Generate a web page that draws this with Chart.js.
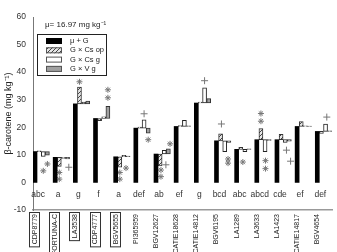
<!DOCTYPE html>
<html><head><meta charset="utf-8">
<script src="https://cdn.jsdelivr.net/npm/chart.js@4/dist/chart.umd.min.js"></script>
<style>html,body{margin:0;padding:0;background:#fff}canvas{display:block}</style>
</head><body>
<canvas id="c" width="337" height="252"></canvas>
<script>
// ---- data ----
const genotypes = ['CDP8779','FORTUNA-C','LA3538','CDP4777','BGV5655','PI365959','BGV12627','CATIE18628','CATIE14812','BGV6195','LA1289','LA3633','LA1423','CATIE14817','BGV4654'];
const muG     = [11.2, 9.1, 28.5, 23.2, 9.3, 19.7, 10.3, 20.3, 28.8, 15.1, 12.0, 15.5, 15.5, 20.3, 18.5];
const effCsOp = [0.3, -3.3, 6.1, -0.8, -3.8, 0.4, -4.3, 0.3, 0.3, 2.5, 0.7, 4.0, 1.9, 1.8, -0.7];
const effCsG  = [-1.8, -0.4, 0.6, 0.6, 0.5, 3.0, 1.3, 2.2, 5.5, -3.9, -0.8, -4.3, -1.0, 0.2, 2.7];
const effVG   = [-1.3, -0.6, 1.0, 4.4, 0.3, -1.8, 1.9, 0.2, 1.6, -0.6, 0.2, -0.3, -0.5, 0.1, 0.2];
const letters = ['abc','a','g','f','a','def','ab','ef','g','bcd','abc','abcd','cde','ef','def'];
const seriesNames = ['\u03bc + G','G \u00d7 Cs op','G \u00d7 Cs g','G \u00d7 V g'];
const meanText = '\u03bc= 16.97 mg kg\u207b\u00b9';
const yTitle = '\u03b2-carotene (mg kg\u207b\u00b9)';
// significance marks: group index, bar slot, value, type
const starGroup = [0, 0, 1, 1, 2, 3, 3, 4, 4, 4, 5, 6, 6, 6, 9, 9, 10, 11, 11, 11, 11];
const starSlot  = [2, 3, 1, 1, 1, 3, 3, 1, 1, 2.5, 3, 3.4, 1.2, 1.2, 2.8, 2.8, 1.5, 1, 1, 2.1, 2.1];
const starY     = [4.2, 6.7, 3.6, 1.2, 36.5, 33.6, 30.7, 3.6, 1.2, 5.2, 15.5, 14.0, 4.5, 2.1, 8.5, 7.0, 7.4, 25.0, 22.2, 7.9, 5.0];
const plusGroup = [1, 5, 6, 8, 9, 12, 12, 14];
const plusSlot  = [3.3, 2, 2.4, 2, 1.2, 2.3, 3.3, 2.3];
const plusY     = [5.5, 24.9, 6.4, 36.9, 21.2, 11.7, 7.7, 23.7];
const boxedLabels = [0, 1, 2, 3, 4];
const yMin = -10, yMax = 60, yStep = 10;

// ---- styles ----
const SLOT = 4.2 / 20.5;
const ctx0 = document.getElementById('c').getContext('2d');
function hatchPattern(){
  const c = document.createElement('canvas'); c.width = 4; c.height = 4;
  const x = c.getContext('2d');
  x.fillStyle = '#e6e6e6'; x.fillRect(0,0,4,4);
  x.strokeStyle = '#444'; x.lineWidth = 1;
  x.beginPath(); x.moveTo(-1,5); x.lineTo(5,-1); x.moveTo(-1,1); x.lineTo(1,-1); x.moveTo(3,5); x.lineTo(5,3); x.stroke();
  return ctx0.createPattern(c, 'repeat');
}
const fills = ['#000', hatchPattern(), '#ffffff', '#a0a0a0'];
const borders = ['#000', '#333', '#222', '#333'];
const effects = [null, effCsOp, effCsG, effVG];

const datasets = [0,1,2,3].map(k => ({
  type: 'bar',
  label: seriesNames[k],
  data: genotypes.map((g, i) => ({
    x: i + k * SLOT,
    y: k === 0 ? [0, muG[i]] : [muG[i], muG[i] + effects[k][i]]
  })),
  backgroundColor: fills[k],
  borderColor: borders[k],
  borderWidth: k === 0 ? 0 : 1,
  borderSkipped: false,
  barThickness: 4,
  grouped: false
}));
datasets.push({
  type: 'line', label: 'star', showLine: false,
  data: starGroup.map((g, j) => ({x: g + starSlot[j] * SLOT, y: starY[j]})),
  pointStyle: 'star', pointRadius: 3, borderColor: '#777', borderWidth: 1, backgroundColor: '#777'
});
datasets.push({
  type: 'line', label: 'plus', showLine: false,
  data: plusGroup.map((g, j) => ({x: g + plusSlot[j] * SLOT, y: plusY[j]})),
  pointStyle: 'cross', pointRadius: 3.5, borderColor: '#777', borderWidth: 1, backgroundColor: '#777'
});

const decor = {
  id: 'decor',
  afterDraw(chart) {
    const c = chart.ctx, xs = chart.scales.x, ys = chart.scales.y, a = chart.chartArea;
    c.save();
    // letters
    c.font = '8.5px "Liberation Sans", Arial, sans-serif';
    c.fillStyle = '#333'; c.textAlign = 'center'; c.textBaseline = 'middle';
    letters.forEach((t, i) => c.fillText(t, xs.getPixelForValue(i + 0.15), ys.getPixelForValue(-4.5)));
    // mean text
    c.textAlign = 'left'; c.font = '8px "Liberation Sans", Arial, sans-serif'; c.fillStyle = '#222';
    c.fillText(meanText, a.left + 12, a.top + 8);
    // legend box
    const lx = a.left + 4, ly = a.top + 17, lw = 69, lh = 41;
    c.strokeStyle = '#222'; c.lineWidth = 1;
    c.strokeRect(lx + 0.5, ly + 0.5, lw, lh);
    c.font = '7.5px "Liberation Sans", Arial, sans-serif';
    for (let k = 0; k < 4; k++) {
      const ry = ly + 7 + k * 9.3;
      c.fillStyle = fills[k];
      c.fillRect(lx + 9, ry - 3, 16, 6);
      if (k > 0) { c.strokeStyle = '#555'; c.strokeRect(lx + 9.5, ry - 2.5, 15, 5); }
      c.fillStyle = '#222';
      c.fillText(seriesNames[k], lx + 33, ry);
    }
    // boxes around some genotype labels
    c.font = '7px "Liberation Sans", Arial, sans-serif';
    c.strokeStyle = '#333'; c.lineWidth = 1;
    boxedLabels.forEach(i => {
      const w = c.measureText(genotypes[i]).width;
      const px = Math.round(xs.getPixelForValue(i));
      c.strokeRect(px - 5.5, a.bottom + 2.5, 10, w + 4);
    });
    c.restore();
  }
};

new Chart(ctx0, {
  type: 'bar',
  data: { datasets },
  options: {
    responsive: false, animation: false, devicePixelRatio: 1,
    layout: { padding: { top: 17, left: 0, right: 0, bottom: 0 } },
    plugins: { legend: { display: false }, tooltip: { enabled: false } },
    scales: {
      x: {
        type: 'linear', min: -0.1, max: 14.73, offset: false,
        grid: { display: false, drawTicks: false },
        border: { display: true, color: '#999', width: 1.5 },
        afterBuildTicks: s => { s.ticks = genotypes.map((g, i) => ({ value: i })); },
        afterFit: s => { s.height = 42; },
        ticks: {
          autoSkip: false, maxRotation: 90, minRotation: 90, padding: 4,
          color: '#222', font: { size: 7, family: '"Liberation Sans", Arial, sans-serif' },
          callback: (v, idx) => genotypes[idx]
        }
      },
      y: {
        min: yMin, max: yMax,
        grid: { display: false, drawTicks: false },
        border: { display: true, color: '#777', width: 1 },
        afterFit: s => { s.width = 33; },
        ticks: { stepSize: yStep, padding: 7, color: '#333', font: { size: 8.5, family: '"Liberation Sans", Arial, sans-serif' } },
        title: { display: true, text: yTitle, padding: { top: 3, bottom: 0 }, color: '#222', font: { size: 9, family: '"Liberation Sans", Arial, sans-serif' } }
      }
    }
  },
  plugins: [decor]
});
</script>
</body></html>
